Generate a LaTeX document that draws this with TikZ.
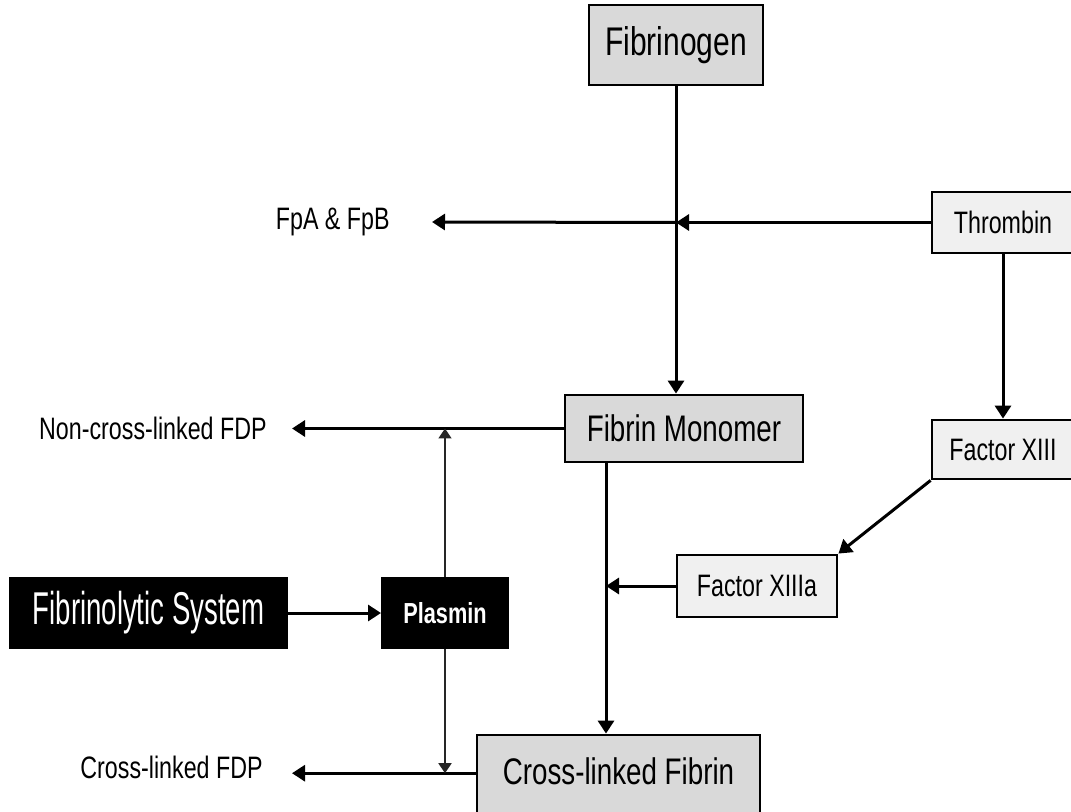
\documentclass[tikz,border=0pt]{standalone}
\usepackage{fontspec}
\setmainfont{Liberation Sans}
\newfontfamily\condfont{Liberation Sans}[FakeStretch=0.75]
\newfontfamily\xcondfont{Liberation Sans}[FakeStretch=0.6]
\usetikzlibrary{arrows.meta, positioning}
\definecolor{boxgrey}{HTML}{D9D9D9}
\definecolor{boxlight}{HTML}{F0F0F0}

\begin{document}
\begin{tikzpicture}[x=0.5pt, y=-0.5pt,
        bigbox/.style={draw, line width=1.4pt, fill=boxgrey, inner sep=0pt,
                       font=\condfont\fontsize{18.5}{20}\selectfont},
        smallbox/.style={draw, line width=1.4pt, fill=boxlight, inner sep=0pt,
                         font=\condfont\fontsize{15.5}{17}\selectfont},
        darkbox/.style={draw, line width=1pt, fill=black, text=white, inner sep=0pt},
        sidelabel/.style={inner sep=0pt, font=\condfont\fontsize{15.5}{17}\selectfont},
        link/.style={-{Triangle[length=6.5pt, width=8pt]}, line width=1.5pt},
        thinlink/.style={-{Triangle[length=5pt, width=6.5pt]}, line width=0.9pt, black!85}]

    \useasboundingbox (0,0) rectangle (1071,812);

    % main chain: fibrinogen -> monomer -> cross-linked fibrin
    \node[bigbox, minimum width=87pt, minimum height=40pt,
          font=\condfont\fontsize{20}{22}\selectfont] (fibrinogen) at (676,45) {Fibrinogen};
    \node[bigbox, minimum width=119pt, minimum height=33.5pt] (monomer) at (684,428.5) {Fibrin Monomer};
    \node[bigbox, minimum width=141.5pt, minimum height=45pt,
          text height=13.5pt, text depth=9pt] (crossfib) at (618.5,780) {Cross-linked Fibrin};

    % enzymes on the right
    \node[smallbox, minimum width=71pt, minimum height=30.5pt] (thrombin) at (1003,222.5) {Thrombin};
    \node[smallbox, minimum width=71pt, minimum height=29.5pt] (factor13) at (1003,449.5) {Factor XIII};
    \node[smallbox, minimum width=80pt, minimum height=31pt] (factor13a) at (757,586) {Factor XIIIa};

    % fibrinolysis
    \node[darkbox, minimum width=138.5pt, minimum height=35pt,
          font=\xcondfont\fontsize{23}{25}\selectfont] (fibsys) at (148.5,613) {Fibrinolytic System};
    \node[darkbox, minimum width=63pt, minimum height=35pt,
          font=\condfont\bfseries\fontsize{14.5}{16}\selectfont] (plasmin) at (445,613) {Plasmin};

    % free ends of the side arrows and their products
    \coordinate (fpatip) at (432,222);
    \coordinate (noncrosstip) at (292,428.5);
    \coordinate (cfwest) at ([yshift=3pt]crossfib.mid west);
    \coordinate (crosstip) at (cfwest -| noncrosstip);
    \node[sidelabel, left=21pt of fpatip] (fpa) {FpA \& FpB};
    \node[sidelabel, left=12.5pt of noncrosstip] (noncross) {Non-cross-linked FDP};
    \node[sidelabel, left=14.5pt of crosstip, yshift=3pt] (crossfdp) {Cross-linked FDP};

    % junctions on the vertical lines
    \coordinate (j1) at (fibrinogen.south |- thrombin.west);
    \coordinate (m2) at ([xshift=-39pt]monomer.south);

    % thrombin cleaves fibrinogen
    \draw[link] (fibrinogen.south) -- (fibrinogen.south |- monomer.north);
    \draw[link] (thrombin.west) -- (j1);
    \draw[link] (j1) -- (fpatip);

    % thrombin activates factor XIII
    \draw[link] (factor13.north |- thrombin.south) -- (factor13.north);
    \draw[link] (factor13.south west) -- (factor13a.north east);

    % cross-linking
    \draw[link] (m2) -- (m2 |- crossfib.north);
    \draw[link] (factor13a.west) -- (factor13a.west -| m2);

    % degradation products
    \draw[link] (monomer.west) -- (noncrosstip);
    \draw[link] (cfwest) -- (crosstip);
    \draw[link] (fibsys) -- (plasmin);
    \draw[thinlink] (plasmin.north) -- (plasmin.north |- monomer.west);
    \draw[thinlink] (plasmin.south) -- (plasmin.south |- cfwest);
\end{tikzpicture}
\end{document}
